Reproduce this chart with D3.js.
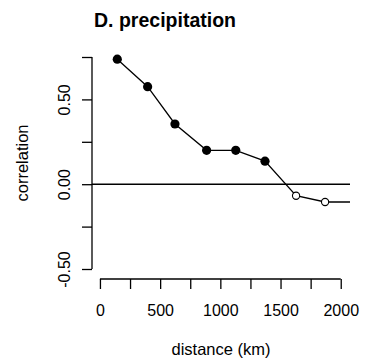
<!DOCTYPE html>
<html><head><meta charset="utf-8">
<script src="https://cdn.jsdelivr.net/npm/d3@7"></script>
<style>body{margin:0;background:#fff}svg{display:block}text{font-family:"Liberation Sans",Arial,sans-serif;fill:#000}</style>
</head><body>
<svg id="c" width="367" height="364"></svg>
<script>
const title = "D. precipitation";
const xLabel = "distance (km)";
const yLabel = "correlation";
const distance = [144, 396, 623, 886, 1128, 1371, 1629, 1870, 2120];
const correlation = [0.737, 0.575, 0.355, 0.20, 0.20, 0.136, -0.068, -0.105, -0.105];
const significant = [true, true, true, true, true, true, false, false, false];
const xTicks = [0, 250, 500, 750, 1000, 1250, 1500, 1750, 2000];
const xTickLabels = ["0", "", "500", "", "1000", "", "1500", "", "2000"];
const yTicks = [-0.5, -0.25, 0, 0.25, 0.5, 0.75];
const yTickLabels = ["-0.50", "", "0.00", "", "0.50", ""];

const data = distance.map((d, i) => ({d, r: correlation[i], s: significant[i]}));
const svg = d3.select("#c");
const x = d3.scaleLinear().domain([-66, 2077]).range([92, 350]);
const y = d3.scaleLinear().domain([-0.5, 0.75]).range([269, 57]);

svg.append("defs").append("clipPath").attr("id", "clip")
  .append("rect").attr("x", x.range()[0]).attr("y", 30).attr("width", x.range()[1] - x.range()[0]).attr("height", 260);

// x axis
const xa = svg.append("g").attr("transform", "translate(0,279)")
  .call(d3.axisBottom(x).tickValues(xTicks).tickSize(10).tickSizeOuter(0).tickFormat((d, i) => xTickLabels[i]));
xa.select(".domain").attr("d", `M${x(0)},0H${x(2000)}`).attr("stroke-width", 1.3);
xa.selectAll(".tick line").attr("stroke-width", 1.3);
xa.selectAll(".tick text").attr("font-size", 16).attr("y", 37).attr("dy", 0).attr("font-family", '"Liberation Sans",Arial,sans-serif');

// y axis
const ya = svg.append("g").attr("transform", "translate(92,0)")
  .call(d3.axisLeft(y).tickValues(yTicks).tickSize(10).tickSizeOuter(0).tickFormat((d, i) => yTickLabels[i]));
ya.select(".domain").attr("d", `M0,${y(0.75)}V${y(-0.5)}`).attr("stroke-width", 1.3);
ya.selectAll(".tick line").attr("stroke-width", 1.3);
ya.selectAll(".tick text").attr("font-size", 16).attr("font-family", '"Liberation Sans",Arial,sans-serif')
  .attr("x", null).attr("dy", null).attr("text-anchor", "middle")
  .attr("transform", "translate(-28,0) rotate(-90)").attr("y", 0).attr("dy", "0.35em");

// zero line
svg.append("line").attr("x1", x.range()[0]).attr("x2", x.range()[1])
  .attr("y1", y(0)).attr("y2", y(0)).attr("stroke", "#000").attr("stroke-width", 1.5);

const g = svg.append("g").attr("clip-path", "url(#clip)");
g.append("path").datum(data)
  .attr("d", d3.line().x(d => x(d.d)).y(d => y(d.r)))
  .attr("fill", "none").attr("stroke", "#000").attr("stroke-width", 1.3);
g.selectAll("circle").data(data).join("circle")
  .attr("cx", d => x(d.d)).attr("cy", d => y(d.r))
  .attr("r", d => d.s ? 4.6 : 3.6)
  .attr("fill", d => d.s ? "#000" : "#fff")
  .attr("stroke", "#000").attr("stroke-width", d => d.s ? 0 : 1.1);

svg.append("text").attr("x", 165).attr("y", 27).attr("text-anchor", "middle")
  .attr("font-size", 19.5).attr("font-weight", "bold").text(title);
svg.append("text").attr("x", 221).attr("y", 355).attr("text-anchor", "middle")
  .attr("font-size", 16.5).text(xLabel);
svg.append("text").attr("transform", "translate(28,163) rotate(-90)").attr("text-anchor", "middle")
  .attr("font-size", 16.5).text(yLabel);
</script>
</body></html>
